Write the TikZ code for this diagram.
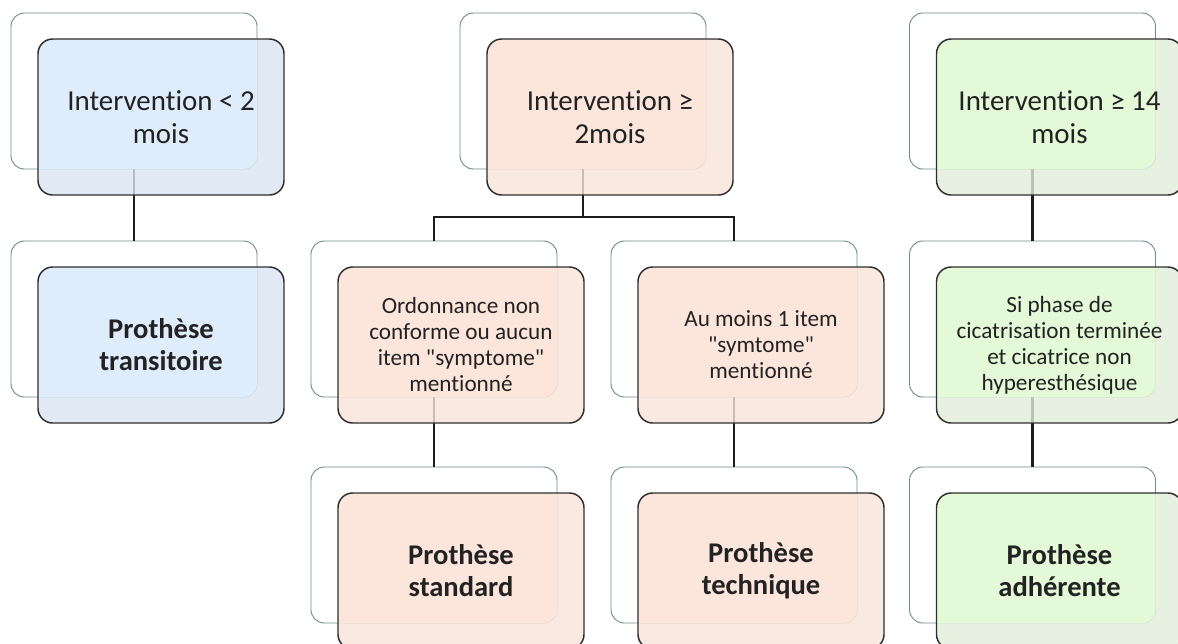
\documentclass[tikz,border=0pt]{standalone}
\usepackage{fontspec}
\setmainfont{Carlito}[Ligatures=NoCommon]
\newfontfamily\carl{Carlito}[Ligatures=NoCommon]
\definecolor{blueOut}{HTML}{D9E4F1}
\definecolor{blueIn}{HTML}{DFECFC}
\definecolor{orangeOut}{HTML}{F8E3D8}
\definecolor{orangeIn}{HTML}{FCE6DC}
\definecolor{greenOut}{HTML}{E1EDD9}
\definecolor{greenIn}{HTML}{E3F9D7}
\definecolor{backline}{HTML}{6E8C8E}
\definecolor{frontline}{HTML}{2E2E2E}
\definecolor{txt}{HTML}{222222}
\definecolor{connline}{HTML}{1C1C1C}
\begin{document}
\begin{tikzpicture}[x=0.75pt,y=-0.75pt,
  backbox/.style={draw=backline, line width=0.7pt, rounded corners=10pt,
    minimum width=184.5pt, minimum height=117pt, inner sep=0pt, outer sep=0pt},
  frontbox/.style n args={3}{draw=frontline, line width=1.1pt, rounded corners=11pt,
    minimum width=184.5pt, minimum height=117pt, inner sep=0pt, outer sep=0pt,
    fill=#1, fill opacity=0.8, text opacity=1, text=txt, align=center,
    path picture={\fill[#2, fill opacity=1, rounded corners=10pt] (#3.south west) rectangle (#3.north east);}},
  bigtxt/.style={font=\carl\fontsize{21.7pt}{24.8pt}\selectfont},
  smalltxt/.style={font=\carl\fontsize{17.4pt}{19.5pt}\selectfont},
  boldtxt/.style={font=\carl\fontsize{21.4pt}{24pt}\selectfont\bfseries},
  conn/.style={draw=connline, line width=2.2pt}
]
\useasboundingbox (0,0) rectangle (1178,643);

% back boxes
\node[backbox] (b1)  at (134,91) {};
\node[backbox] (b1c) at (134,319) {};
\node[backbox] (b2)  at (583,91) {};
\node[backbox] (b2a) at (434,319) {};
\node[backbox] (b2b) at (734,319) {};
\node[backbox] (b2ac) at (434,545) {};
\node[backbox] (b2bc) at (734,545) {};
\node[backbox] (b3)  at (1032.5,91) {};
\node[backbox] (b3a) at (1032.5,319) {};
\node[backbox] (b3c) at (1032.5,545) {};

% connectors
\coordinate (j2) at (583,217);
\draw[conn] (b1.south) -- (b1c.north);
\draw[conn] (b2.south) -- (j2) -| (b2a.north);
\draw[conn] (j2) -| (b2b.north);
\draw[conn] (b2a.south) -- (b2ac.north);
\draw[conn] (b2b.south) -- (b2bc.north);
\draw[conn] (b3.south) -- (b3a.north);
\draw[conn] (b3a.south) -- (b3c.north);

% front boxes
\node[frontbox={blueOut}{blueIn}{b1}, bigtxt] (f1) at (161,117) {Intervention < 2\\mois};
\node[frontbox={blueOut}{blueIn}{b1c}, boldtxt] (f1c) at (161,345) {Prothèse\\transitoire};
\node[frontbox={orangeOut}{orangeIn}{b2}, bigtxt] (f2) at (610,117) {Intervention ≥\\2mois};
\node[frontbox={orangeOut}{orangeIn}{b2a}, smalltxt] (f2a) at (461,345) {Ordonnance non\\conforme ou aucun\\item "symptome"\\mentionné};
\node[frontbox={orangeOut}{orangeIn}{b2b}, smalltxt] (f2b) at (761,345) {Au moins 1 item\\"symtome"\\mentionné};
\node[frontbox={orangeOut}{orangeIn}{b2ac}, boldtxt] (f2ac) at (461,571) {Prothèse\\standard};
\node[frontbox={orangeOut}{orangeIn}{b2bc}, boldtxt] (f2bc) at (761,571) {Prothèse\\technique};
\node[frontbox={greenOut}{greenIn}{b3}, bigtxt] (f3) at (1059.5,117) {Intervention ≥ 14\\mois};
\node[frontbox={greenOut}{greenIn}{b3a}, smalltxt] (f3a) at (1059.5,345) {Si phase de\\cicatrisation terminée\\et cicatrice non\\hyperesthésique};
\node[frontbox={greenOut}{greenIn}{b3c}, boldtxt] (f3c) at (1059.5,571) {Prothèse\\adhérente};
\end{tikzpicture}
\end{document}
